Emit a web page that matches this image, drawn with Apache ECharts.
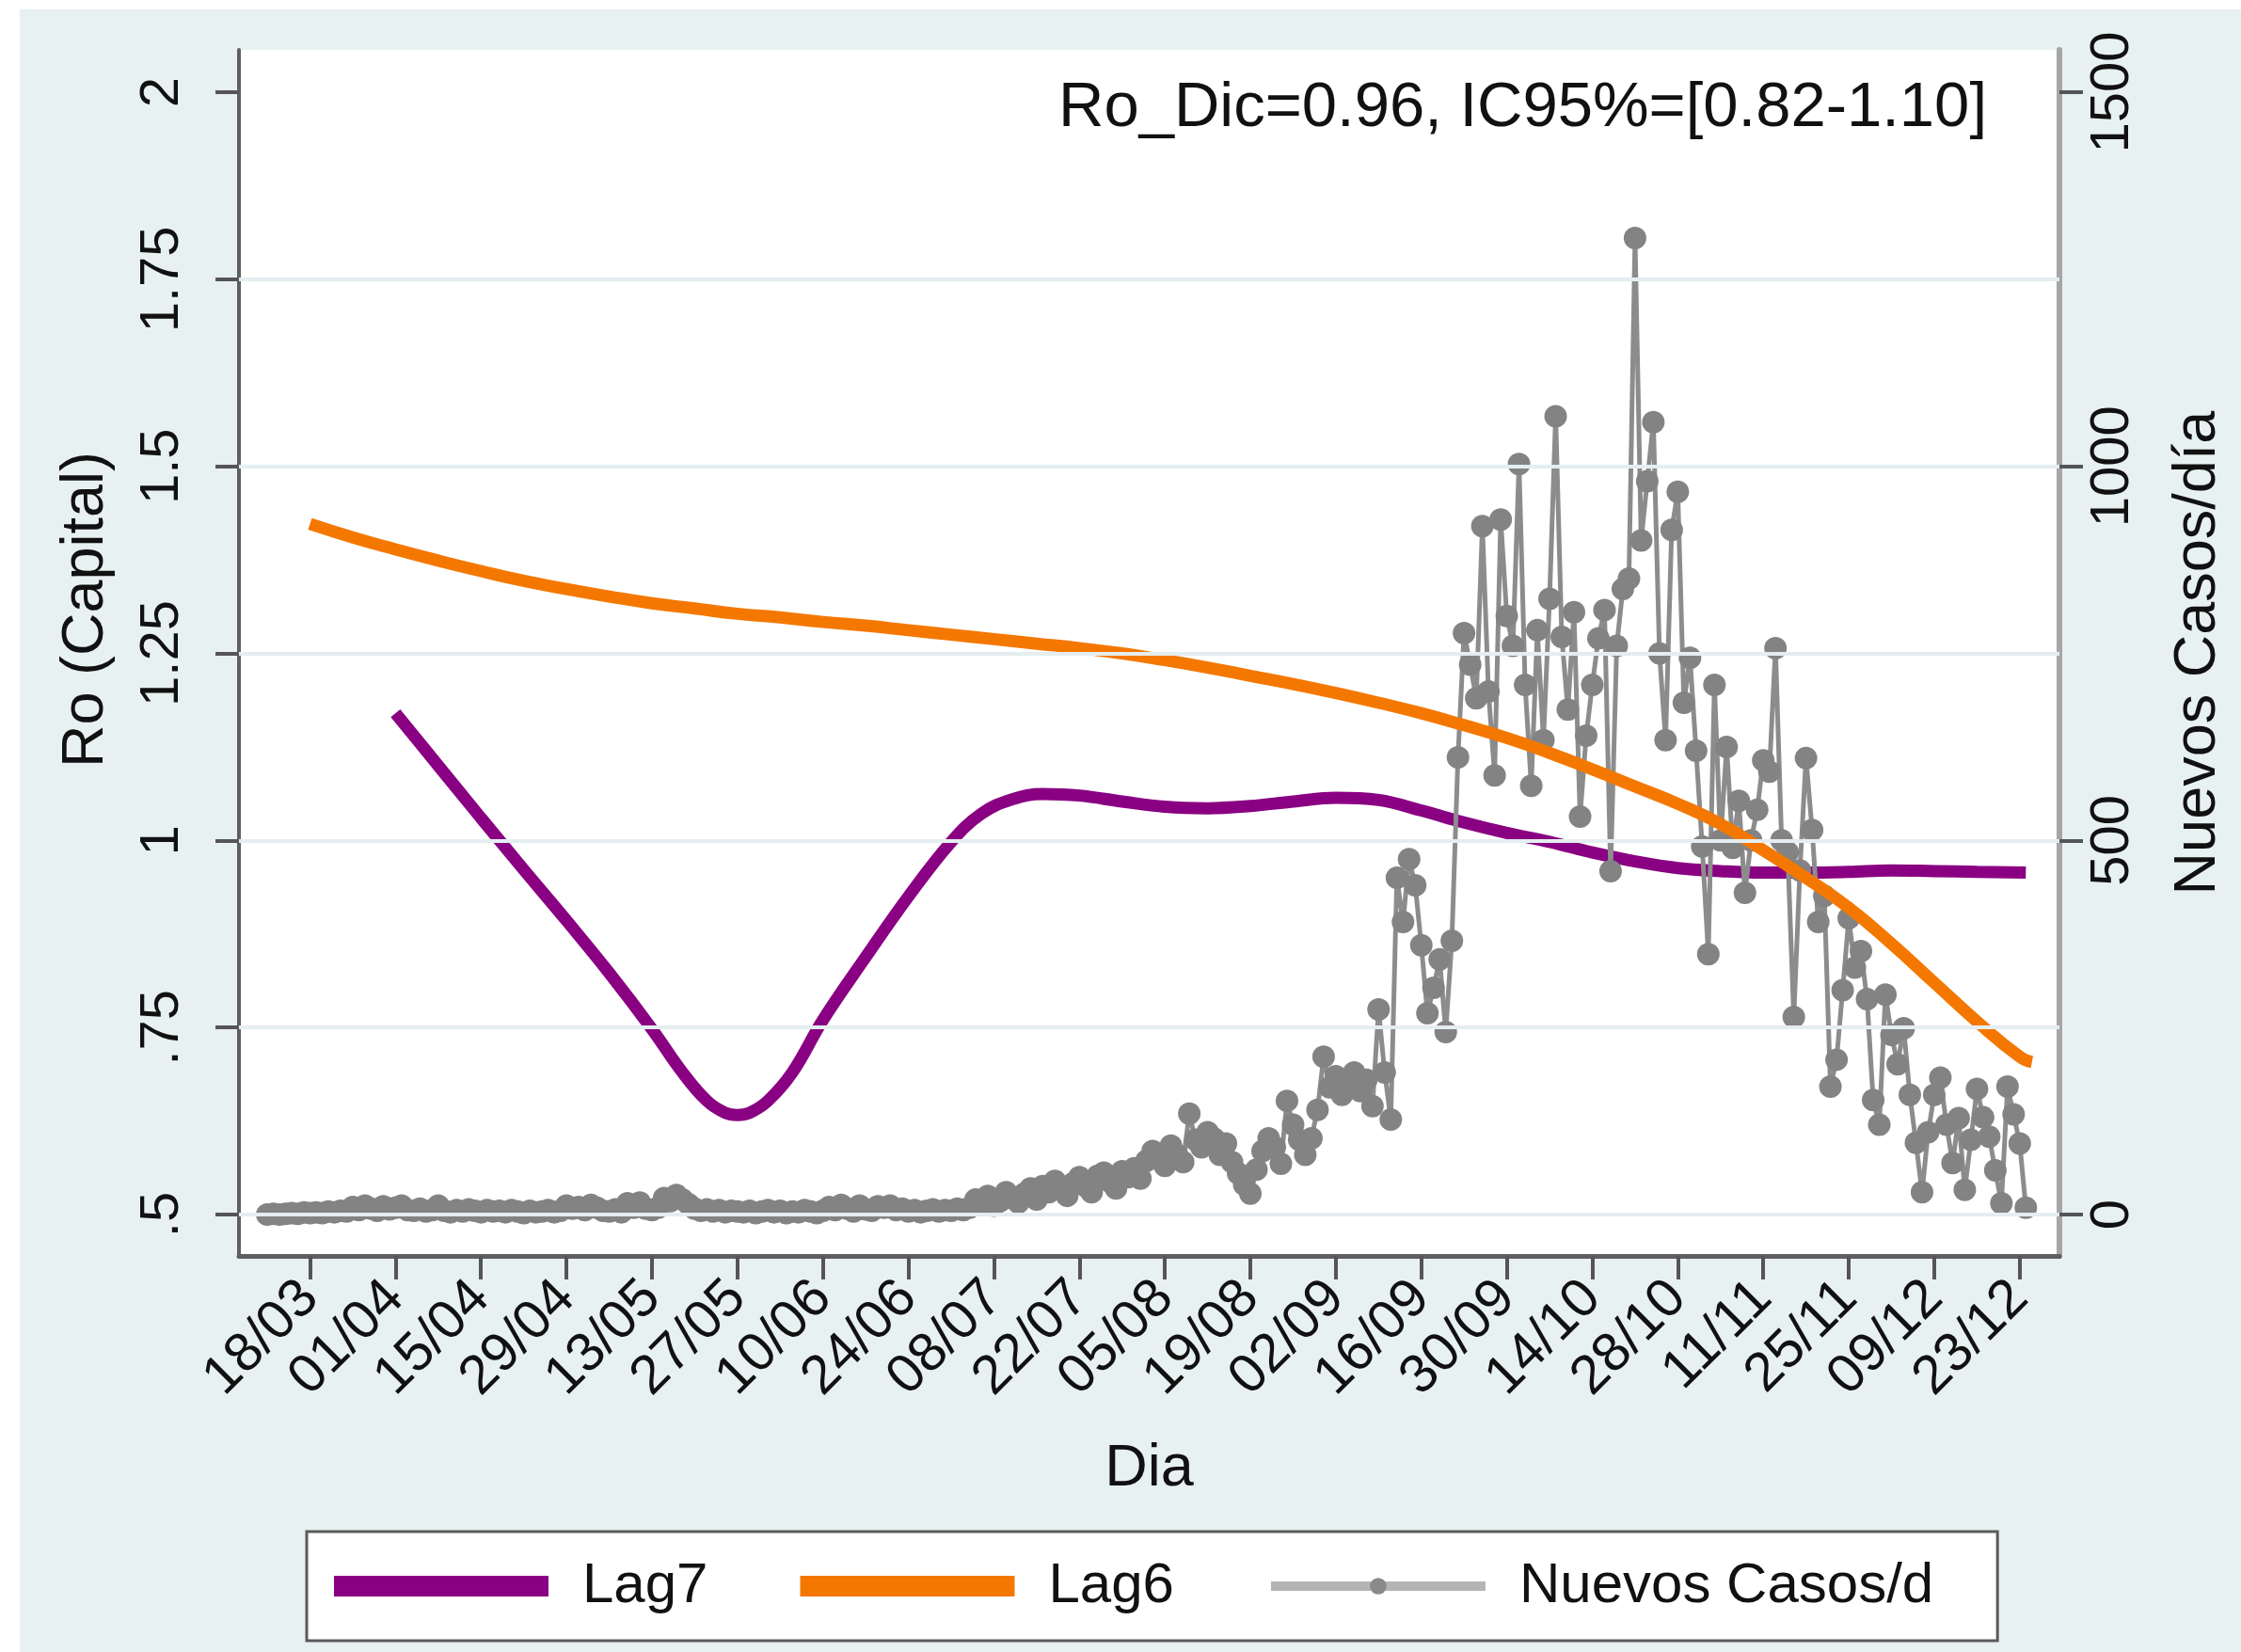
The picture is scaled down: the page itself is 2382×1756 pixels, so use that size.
<!DOCTYPE html>
<html>
<head>
<meta charset="utf-8">
<script src="https://cdn.jsdelivr.net/npm/echarts@6/dist/echarts.min.js"></script>
<style>
html,body{margin:0;padding:0;background:#fff;}
#chart{width:2382px;height:1756px;}
</style>
</head>
<body>
<div id="chart"></div>
<script>
// ---- x axis: days since 18/03 ----
const tickDays = [0,14,28,42,56,70,84,98,112,126,140,154,168,182,196,210,224,238,252,266,280];
const tickLabels = ['18/03','01/04','15/04','29/04','13/05','27/05','10/06','24/06','08/07','22/07','05/08','19/08','02/09','16/09','30/09','14/10','28/10','11/11','25/11','09/12','23/12'];

// ---- left axis (Ro) ----
const leftTicks = [0.5,0.75,1,1.25,1.5,1.75,2];
const leftTickLabels = ['.5','.75','1','1.25','1.5','1.75','2'];
// ---- right axis (cases) ----
const rightTicks = [0,500,1000,1500];
const rightTickLabels = ['0','500','1000','1500'];

// ---- Lag6 (orange) ----
const lag6Days = [0,7,14,21,28,35,42,49,56,63,70,77,84,91,98,105,112,119,126,133,140,147,154,161,168,175,182,189,196,203,210,217,224,231,238,245,252,259,266,273,280,282];
const lag6Values = [1.423,1.405,1.389,1.374,1.360,1.347,1.336,1.326,1.317,1.310,1.303,1.298,1.292,1.287,1.281,1.275,1.269,1.263,1.257,1.250,1.241,1.231,1.220,1.209,1.197,1.184,1.170,1.154,1.137,1.117,1.095,1.072,1.049,1.022,0.987,0.950,0.910,0.862,0.810,0.758,0.711,0.704];

// ---- Lag7 (purple) ----
const lag7Days = [14,21,28,35,42,49,56,61,65,68,70,72,75,79,84,91,98,105,110,115,120,126,133,140,147,154,161,168,175,182,189,196,203,210,217,224,231,238,245,252,259,266,273,281];
const lag7Values = [1.170,1.100,1.030,0.961,0.893,0.823,0.748,0.690,0.652,0.636,0.633,0.636,0.652,0.690,0.760,0.844,0.925,0.998,1.036,1.055,1.062,1.060,1.052,1.045,1.043,1.046,1.052,1.057,1.054,1.040,1.024,1.010,0.998,0.984,0.972,0.963,0.959,0.957,0.957,0.958,0.960,0.959,0.958,0.957];

// ---- Nuevos casos por día (first value = 11/03, day -7) ----
const casesFirstDay = -7;
const newCases = [
  0,1,0,1,2,1,3,
  2,3,2,4,3,5,4,
  10,6,12,8,5,11,7,9,12,6,
  5,8,4,6,12,5,3,6,4,7,5,3,6,4,
  5,3,6,4,2,5,3,4,6,3,5,
  12,8,10,6,13,9,
  5,4,7,3,
  15,9,16,8,
  6,9,
  22,18,26,20,14,
  8,5,7,4,6,3,5,4,
  3,5,2,4,6,3,5,2,4,3,6,4,2,5,
  10,6,13,8,4,12,7,5,11,9,12,6,8,
  4,6,3,5,7,4,6,5,8,6,9,
  20,14,25,12,18,30,22,16,28,35,20,38,30,45,36,25,42,50,38,30,52,56,44,35,58,50,62,48,72,85,78,65,92,80,70,135,100,90,110,102,80,95,
  70,55,40,28,60,85,102,90,68,152,120,100,80,102,140,
  211,170,185,160,175,190,165,180,145,274,190,127,450,391,475,440,360,269,303,341,244,366,
  611,777,735,690,920,699,587,929,800,760,1003,708,573,781,634,823,1067,772,675,805,532,640,708,770,808,459,760,836,850,1305,901,980,1059,750,634,915,966,684,
  744,620,492,348,708,500,625,490,553,430,500,541,607,592,757,500,484,264,460,610,514,391,426,171,207,300,396,330,352,288,153,120,294,240,201,249,160,96,30,110,160,183,120,69,129,33,100,168,130,104,59,15,171,134,95,9
];

const annotation = 'Ro_Dic=0.96, IC95%=[0.82-1.10]';

const FONT = '"Liberation Sans", Arial, sans-serif';
const PURPLE = '#8a0082';
const ORANGE = '#f47800';
const GREY = '#838383';

const lag6Data = lag6Days.map((d,i)=>[d, lag6Values[i]]);
const lag7Data = lag7Days.map((d,i)=>[d, lag7Values[i]]);
const casesData = newCases.map((v,i)=>[casesFirstDay + i, v]);

const chart = echarts.init(document.getElementById('chart'), null, {renderer:'canvas'});
chart.setOption({
  animation: false,
  backgroundColor: '#e8f1f2',
  textStyle: {fontFamily: FONT},
  graphic: [
    {type:'rect', shape:{x:0,y:0,width:2382,height:10}, style:{fill:'#fff'}, silent:true},
    {type:'rect', shape:{x:0,y:0,width:21,height:1756}, style:{fill:'#fff'}, silent:true}
  ],
  title: {
    text: annotation,
    right: 270, top: 82, padding: 0,
    textStyle: {fontFamily: FONT, fontSize: 67, fontWeight: 'normal', color: '#111'}
  },
  legend: {
    left: 326, top: 1628,
    orient: 'horizontal',
    backgroundColor: '#fff',
    borderColor: '#5a5a5a',
    borderWidth: 3,
    borderRadius: 0,
    padding: [28, 68, 28, 29],
    itemWidth: 228,
    itemHeight: 22,
    itemGap: 98,
    textStyle: {fontFamily: FONT, fontSize: 60, color: '#111', padding: [0,0,0,31]},
    data: [
      {name:'Lag7', icon:'rect'},
      {name:'Lag6', icon:'rect'},
      {name:'Nuevos Casos/d', lineStyle: {width: 10, color: '#b4b4b4'}, itemStyle: {color: '#8a8a8a'}}
    ]
  },
  grid: {
    left: 254, right: 193, top: 53, bottom: 421,
    show: true, backgroundColor: '#fff', borderWidth: 0,
    containLabel: false
  },
  xAxis: {
    type: 'value',
    min: -11.63, max: 286.5,
    name: 'Dia',
    nameLocation: 'middle',
    nameGap: 195,
    nameTextStyle: {fontFamily: FONT, fontSize: 63, color: '#111'},
    axisLine: {show: true, onZero: false, lineStyle: {color: '#5f5f5f', width: 5}},
    axisTick: {show: true, customValues: tickDays, length: 25, lineStyle: {color: '#555', width: 4}},
    axisLabel: {
      show: true, customValues: tickDays, rotate: 45, margin: 36,
      fontFamily: FONT, fontSize: 58, color: '#111',
      formatter: v => tickLabels[tickDays.indexOf(v)]
    },
    splitLine: {show: false}
  },
  yAxis: [
    {
      type: 'value',
      position: 'left',
      min: 0.4447, max: 2.0566,
      name: 'Ro (Capital)',
      nameLocation: 'middle',
      nameRotate: 90,
      nameGap: 131,
      nameTextStyle: {fontFamily: FONT, fontSize: 63, color: '#111', padding: [0,0,0,92]},
      axisLine: {show: true, onZero: false, lineStyle: {color: '#5f5f5f', width: 4}},
      axisTick: {show: true, customValues: leftTicks, length: 25, lineStyle: {color: '#555', width: 4}},
      axisLabel: {
        show: true, customValues: leftTicks, rotate: 90, margin: 52,
        fontFamily: FONT, fontSize: 58, color: '#111',
        formatter: v => leftTickLabels[leftTicks.indexOf(v)]
      },
      splitLine: {show: false}
    },
    {
      type: 'value',
      position: 'right',
      min: -55.3, max: 1556.6,
      name: 'Nuevos Casos/día',
      nameLocation: 'middle',
      nameRotate: 90,
      nameGap: 116,
      nameTextStyle: {fontFamily: FONT, fontSize: 63, color: '#111'},
      axisLine: {show: true, onZero: false, lineStyle: {color: '#a6a6a6', width: 6}},
      axisTick: {show: true, customValues: rightTicks, length: 25, lineStyle: {color: '#555', width: 4}},
      axisLabel: {
        show: true, customValues: rightTicks, rotate: 90, margin: 28,
        fontFamily: FONT, fontSize: 58, color: '#111',
        formatter: v => rightTickLabels[rightTicks.indexOf(v)]
      },
      splitLine: {show: false}
    }
  ],
  series: [
    {
      type: 'line', name: 'gridlines', data: [], yAxisIndex: 0, z: 1, silent: true,
      markLine: {
        silent: true, symbol: 'none', label: {show: false}, animation: false,
        lineStyle: {color: '#e4eef0', width: 4, type: 'solid'},
        emphasis: {disabled: true},
        data: leftTicks.filter(v => v < 2).map(v => ({yAxis: v}))
      }
    },
    {
      type: 'line', name: 'Lag7', data: lag7Data, yAxisIndex: 0, z: 2,
      smooth: 0.4, symbol: 'none', showSymbol: false,
      lineStyle: {color: PURPLE, width: 13}, itemStyle: {color: PURPLE}
    },
    {
      type: 'line', name: 'Nuevos Casos/d', data: casesData, yAxisIndex: 1, z: 3,
      symbol: 'circle', symbolSize: 24, showSymbol: true, showAllSymbol: true,
      lineStyle: {color: '#8c8c8c', width: 5}, itemStyle: {color: GREY}
    },
    {
      type: 'line', name: 'Lag6', data: lag6Data, yAxisIndex: 0, z: 4,
      smooth: true, symbol: 'none', showSymbol: false,
      lineStyle: {color: ORANGE, width: 13}, itemStyle: {color: ORANGE}
    }
  ]
});
</script>
</body>
</html>
